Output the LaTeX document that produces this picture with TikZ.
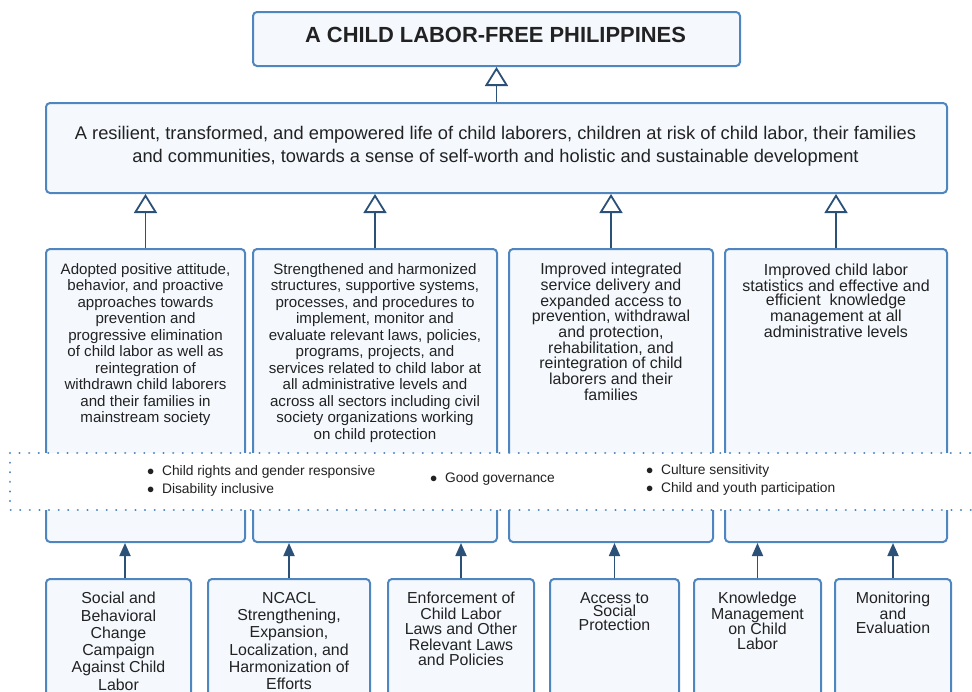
\documentclass[tikz,border=0pt]{standalone}
\usepackage{fontspec}
\setmainfont{Liberation Sans}
\usetikzlibrary{arrows.meta,calc}
\definecolor{bordc}{HTML}{4F86BF}
\definecolor{fillc}{HTML}{F5F9FE}
\definecolor{arrc}{HTML}{2B5179}
\definecolor{txtc}{HTML}{222222}
\tikzset{
  box/.style={draw=bordc, fill=fillc, line width=2pt, rounded corners=4pt, inner sep=0pt, anchor=north west},
  txt/.style={inner sep=0pt, align=center, anchor=north, text=txtc},
  openarr/.style={draw=arrc, line width=1.8pt, -{Triangle[open, width=23pt, length=19pt, line width=1.8pt]}},
  fillarr/.style={draw=arrc, line width=1.8pt, -{Triangle[width=11pt, length=13pt]}, fill=arrc},
  band/.style={draw=bordc, line width=2.2pt, dash pattern=on 0.1pt off 9.5pt, line cap=round, fill=white}
}
\begin{document}
\begin{tikzpicture}[x=1pt,y=-1pt]
\useasboundingbox (0,0) rectangle (972,691);
% top
\node[box, minimum width=487pt, minimum height=54pt] (top) at (252,11) {};
\node[txt, anchor=center, font=\fontsize{21.9}{24}\selectfont\bfseries] (toptxt) at (495.5,34.5) {A CHILD LABOR-FREE PHILIPPINES};
% goal
\node[box, minimum width=901pt, minimum height=90pt] (goal) at (45,102) {};
\node[txt, font=\fontsize{18.3}{23}\selectfont] (goaltxt) at (495.5,126) {A resilient, transformed, and empowered life of child laborers, children at risk of child labor, their families\\and communities, towards a sense of self-worth and holistic and sustainable development};
% outcomes
\node[box, minimum width=199pt, minimum height=293pt] (o1) at (45,248) {};
\node[box, minimum width=244pt, minimum height=293pt] (o2) at (252,248) {};
\node[box, minimum width=204pt, minimum height=293pt] (o3) at (508,248) {};
\node[box, minimum width=222pt, minimum height=293pt] (o4) at (724,248) {};
\node[txt, font=\fontsize{15.1}{16.5}\selectfont] (o1t) at (o1.north |- 0,263) {Adopted positive attitude,\\behavior, and proactive\\approaches towards\\prevention and\\progressive elimination\\of child labor as well as\\reintegration of\\withdrawn child laborers\\and their families in\\mainstream society};
\node[txt, font=\fontsize{15.1}{16.5}\selectfont] (o2t) at (o2.north |- 0,263) {Strengthened and harmonized\\structures, supportive systems,\\processes, and procedures to\\implement, monitor and\\evaluate relevant laws, policies,\\programs, projects, and\\services related to child labor at\\all administrative levels and\\across all sectors including civil\\society organizations working\\on child protection};
\node[txt, font=\fontsize{15.9}{15.7}\selectfont] (o3t) at (o3.north |- 0,263) {Improved integrated\\service delivery and\\expanded access to\\prevention, withdrawal\\and protection,\\rehabilitation, and\\reintegration of child\\laborers and their\\families};
\node[txt, font=\fontsize{16}{14}\selectfont] (o4t) at (o4.north |- 0,264) {Improved child labor\\statistics and effective and\\efficient\ \ knowledge\\management at all\\administrative levels};
% band
\path[band] (10,453) rectangle (985,510);
\node[txt, anchor=north west, align=left, font=\fontsize{13.8}{18}\selectfont] (bl1) at (147,465) {$\bullet$\ \ Child rights and gender responsive\\$\bullet$\ \ Disability inclusive};
\node[txt, anchor=west, align=left, font=\fontsize{13.8}{18}\selectfont] (bl2) at (430,479) {$\bullet$\ \ Good governance};
\node[txt, anchor=north west, align=left, font=\fontsize{13.8}{18}\selectfont] (bl3) at (646,464) {$\bullet$\ \ Culture sensitivity\\$\bullet$\ \ Child and youth participation};
% bottom boxes
\node[box, minimum width=145pt, minimum height=130pt] (b1) at (45,578) {};
\node[box, minimum width=162pt, minimum height=130pt] (b2) at (207,578) {};
\node[box, minimum width=146pt, minimum height=130pt] (b3) at (387,578) {};
\node[box, minimum width=129pt, minimum height=130pt] (b4) at (549,578) {};
\node[box, minimum width=127pt, minimum height=130pt] (b5) at (693,578) {};
\node[box, minimum width=116pt, minimum height=130pt] (b6) at (834,578) {};
\node[txt, font=\fontsize{15.9}{17.3}\selectfont] (b1t) at (b1.north |- 0,592) {Social and\\Behavioral\\Change\\Campaign\\Against Child\\Labor};
\node[txt, font=\fontsize{15.9}{17.3}\selectfont] (b2t) at (b2.north |- 0,592) {NCACL\\Strengthening,\\Expansion,\\Localization, and\\Harmonization of\\Efforts};
\node[txt, font=\fontsize{15.9}{15.5}\selectfont] (b3t) at (b3.north |- 0,592) {Enforcement of\\Child Labor\\Laws and Other\\Relevant Laws\\and Policies};
\node[txt, font=\fontsize{15.9}{13.6}\selectfont] (b4t) at (b4.north |- 0,592) {Access to\\Social\\Protection};
\node[txt, font=\fontsize{15.9}{15.3}\selectfont] (b5t) at (b5.north |- 0,592) {Knowledge\\Management\\on Child\\Labor};
\node[txt, font=\fontsize{15.9}{13.6}\selectfont] (b6t) at (b6.north |- 0,592) {Monitoring\\and\\Evaluation};
% open arrows
\draw[openarr] (goal.north) -- (top.south);
\draw[openarr] (o1.north) -- (o1.north |- goal.south);
\draw[openarr] (o2.north) -- (o2.north |- goal.south);
\draw[openarr] (o3.north) -- (o3.north |- goal.south);
\draw[openarr] (o4.north) -- (o4.north |- goal.south);
% filled arrows
\coordinate (b1a) at ($(b1.north west)+(80,0)$);
\draw[fillarr] (b1a) -- (b1a |- o1.south);
\draw[fillarr] (b2.north) -- (b2.north |- o2.south);
\draw[fillarr] (b3.north) -- (b3.north |- o2.south);
\draw[fillarr] (b4.north) -- (b4.north |- o3.south);
\draw[fillarr] (b5.north) -- (b5.north |- o4.south);
\draw[fillarr] (b6.north) -- (b6.north |- o4.south);
\end{tikzpicture}
\end{document}
